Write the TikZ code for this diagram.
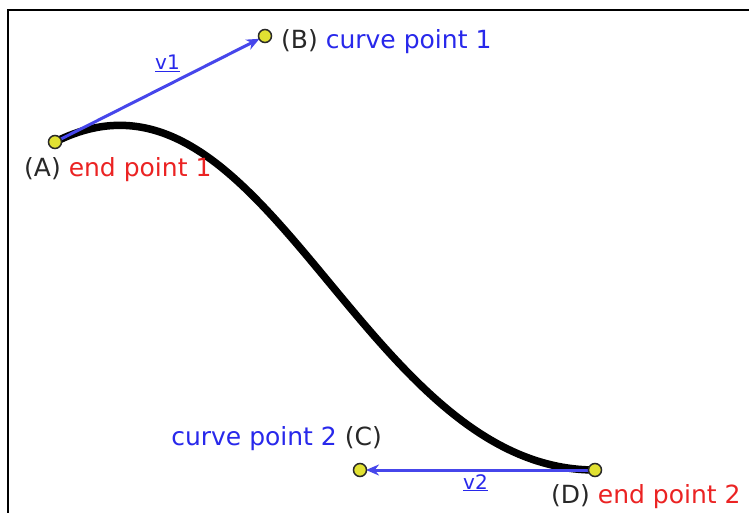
\documentclass[tikz,border=0pt]{standalone}
\usepackage{fontspec}
\setmainfont{DejaVu Sans}
\usetikzlibrary{arrows.meta}
\definecolor{txtblue}{RGB}{40,40,235}
\definecolor{txtred}{RGB}{235,35,35}
\definecolor{txtdark}{RGB}{40,40,40}
\definecolor{arrblue}{RGB}{70,70,235}
\definecolor{dotyellow}{RGB}{225,225,50}
\tikzset{
  dot/.style={circle, draw=txtdark, fill=dotyellow, line width=1.5pt, minimum size=13pt, inner sep=0pt},
  lbl/.style={inner sep=0pt, font=\fontsize{25}{30}\selectfont},
  vlbl/.style={inner sep=0pt, text=txtblue, font=\fontsize{20}{24}\selectfont},
  vec/.style={draw=arrblue, line width=3pt, -{Stealth[length=13pt,width=11pt]}},
  bez/.style={line width=7.5pt, line cap=round}
}
\begin{document}
\begin{tikzpicture}[x=1pt,y=-1pt]
\useasboundingbox (0,0) rectangle (749,513);
\fill[white] (0,0) rectangle (749,513);
\draw[line width=2.5pt] (8,513) -- (8,10) -- (749,10);
% point centres
\coordinate (a) at (55,142);
\coordinate (b) at (265,36);
\coordinate (c) at (360,470);
\coordinate (d) at (595,470);
% curve
\draw[bez] (a) .. controls (b) and (c) .. (d);
% vectors
\draw[vec] (a) -- ([shift={(-5.5,2.8)}]b);
\draw[vec] (d) -- ([xshift=6pt]c);
% dots
\node[dot] (A) at (a) {};
\node[dot] (B) at (b) {};
\node[dot] (C) at (c) {};
\node[dot] (D) at (d) {};
% labels
\node[lbl, anchor=base west] (tA) at (24,177) {\textcolor{txtdark}{(A)} \textcolor{txtred}{end point 1}};
\node[lbl, anchor=base west] (tB) at (281,49) {\textcolor{txtdark}{(B)} \textcolor{txtblue}{curve point 1}};
\node[lbl, anchor=base east] (tC) at (382,445) {\textcolor{txtblue}{curve point 2} \textcolor{txtdark}{(C)}};
\node[lbl, anchor=base west] (tD) at (551,503) {\textcolor{txtdark}{(D)} \textcolor{txtred}{end point 2}};
\node[vlbl, anchor=base west] (v1) at (155,70) {\underline{v1}};
\node[vlbl, anchor=base west] (v2) at (463,489) {\underline{v2}};
\end{tikzpicture}
\end{document}
